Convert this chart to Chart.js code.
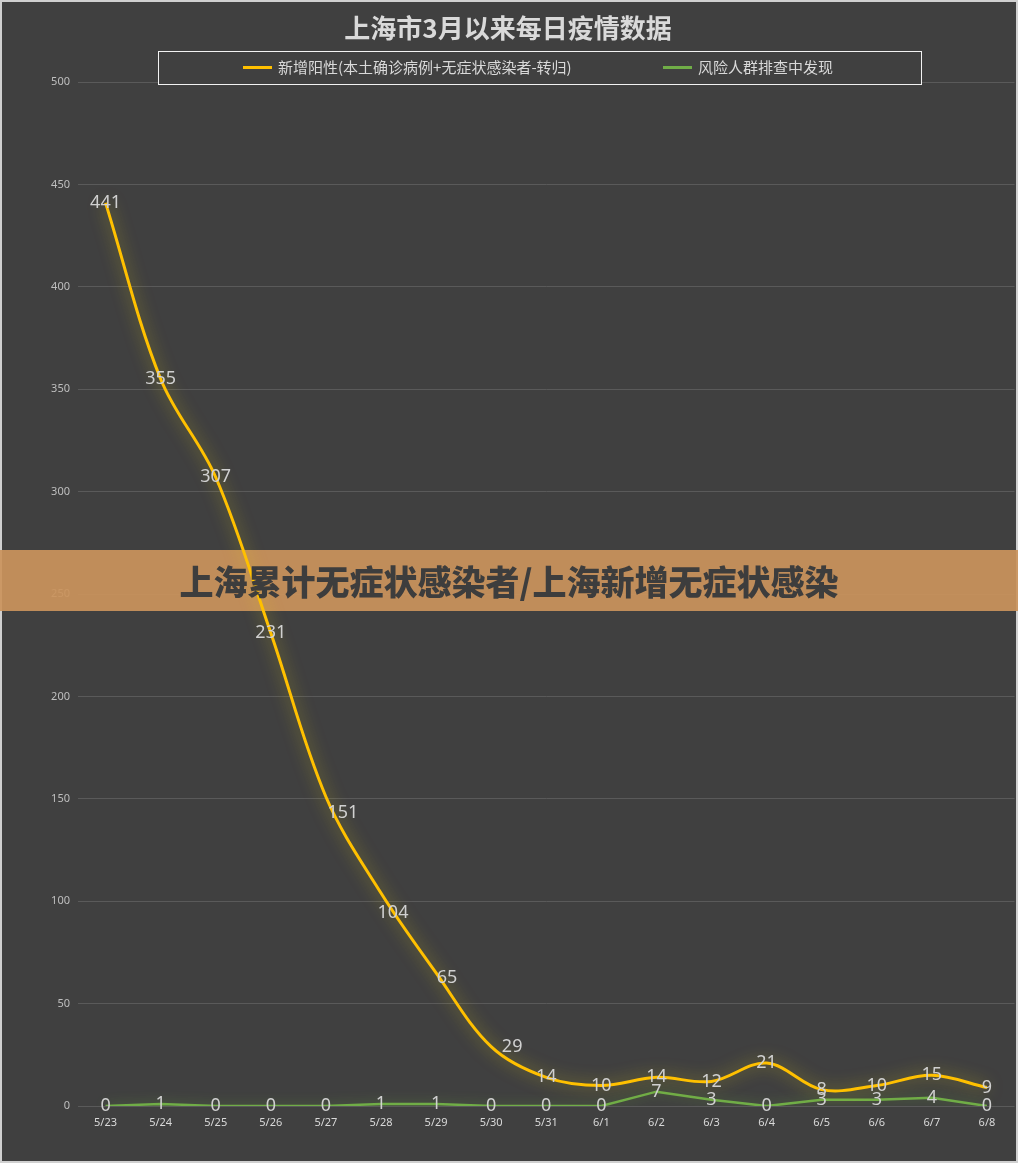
<!DOCTYPE html>
<html>
<head>
<meta charset="utf-8">
<script src="https://cdn.jsdelivr.net/npm/chart.js@4"></script>
<style>
    html, body { margin: 0; padding: 0; background: #404040; }
    #wrap { width: 1018px; height: 1163px; position: relative; }
</style>
</head>
<body>
<div id="wrap"><canvas id="epiChart" width="1018" height="1163"></canvas></div>
<script>
// ==================== DATA ====================
const dates = ['5/23', '5/24', '5/25', '5/26', '5/27', '5/28', '5/29', '5/30', '5/31',
               '6/1', '6/2', '6/3', '6/4', '6/5', '6/6', '6/7', '6/8'];
const positiveCases = [441, 355, 307, 231, 151, 104, 65, 29, 14, 10, 14, 12, 21, 8, 10, 15, 9];
const screeningCases = [0, 1, 0, 0, 0, 1, 1, 0, 0, 0, 7, 3, 0, 3, 3, 4, 0];
const seriesNames = ['新增阳性(本土确诊病例+无症状感染者-转归)', '风险人群排查中发现'];
const seriesColors = ['#ffc000', '#70ad47'];
const glowColors = ['rgba(230, 210, 20, 0.6)', 'rgba(120, 200, 60, 0.45)'];
const yMin = 0, yMax = 500, yStep = 50;
const chartTitle = '上海市3月以来每日疫情数据';
const bannerText = '上海累计无症状感染者/上海新增无症状感染';

const BG = '#404040';
const TEXT = '#d9d9d9';
const CJK = '"Noto Sans CJK SC", "Noto Sans", sans-serif';

// a few value labels were dragged off their points in the original (dataset 0, point index -> [dx, dy])
const labelNudge = { 4: [17, 16], 5: [12, 20], 6: [11, 5], 7: [21, 0] };

// ==================== PLUGINS ====================
// frame, background, title and boxed legend
const framePlugin = {
    id: 'frame',
    beforeDraw(chart) {
        const ctx = chart.ctx;
        ctx.save();
        ctx.fillStyle = BG;
        ctx.fillRect(0, 0, chart.width, chart.height);
        ctx.strokeStyle = '#d0d0d0';
        ctx.lineWidth = 2;
        ctx.strokeRect(1, 1, chart.width - 2, chart.height - 2);
        ctx.restore();
    },
    afterDraw(chart) {
        const ctx = chart.ctx;
        ctx.save();
        // title
        ctx.fillStyle = TEXT;
        ctx.font = 'bold 26px ' + CJK;
        ctx.textAlign = 'center';
        ctx.textBaseline = 'middle';
        ctx.fillText(chartTitle, 508, 28);

        // legend box
        ctx.fillStyle = BG;
        ctx.fillRect(158, 51, 763, 33);
        ctx.strokeStyle = '#f2f2f2';
        ctx.lineWidth = 1;
        ctx.strokeRect(158.5, 51.5, 763, 33);

        const starts = [243, 663];
        ctx.font = '15px ' + CJK;
        ctx.textAlign = 'left';
        chart.data.datasets.forEach((ds, i) => {
            ctx.strokeStyle = ds.borderColor;
            ctx.lineWidth = 3;
            ctx.beginPath();
            ctx.moveTo(starts[i], 67.5);
            ctx.lineTo(starts[i] + 29, 67.5);
            ctx.stroke();
            ctx.fillStyle = TEXT;
            ctx.fillText(ds.label, starts[i] + 35, 67);
        });
        ctx.restore();
    }
};

// glow on the lines
const glowPlugin = {
    id: 'glow',
    beforeDatasetDraw(chart, args) {
        const ctx = chart.ctx;
        ctx.save();
        ctx.shadowColor = glowColors[args.index];
        ctx.shadowBlur = args.index === 0 ? 16 : 12;
    },
    afterDatasetDraw(chart) {
        chart.ctx.restore();
    }
};

// banner across the chart + value labels
const overlayPlugin = {
    id: 'overlay',
    beforeDatasetsDraw(chart) {
        const ctx = chart.ctx;
        ctx.save();
        ctx.fillStyle = 'rgba(202, 147, 92, 0.93)';
        ctx.fillRect(0, 550, chart.width, 61);
        ctx.restore();
    },
    afterDatasetsDraw(chart) {
        const ctx = chart.ctx;
        ctx.save();
        ctx.font = '18px "Noto Sans", "Open Sans", sans-serif';
        ctx.fillStyle = '#d0d0d0';
        ctx.textAlign = 'center';
        ctx.textBaseline = 'middle';
        chart.data.datasets.forEach((ds, i) => {
            const meta = chart.getDatasetMeta(i);
            meta.data.forEach((pt, j) => {
                const nudge = (i === 0 && labelNudge[j]) || [0, 0];
                ctx.fillText(String(ds.data[j]), pt.x + nudge[0], pt.y + nudge[1]);
            });
        });
        ctx.restore();
    },
    afterDraw(chart) {
        const ctx = chart.ctx;
        ctx.save();
        ctx.fillStyle = '#3d3d3d';
        ctx.font = '900 34px ' + CJK;
        ctx.textAlign = 'center';
        ctx.textBaseline = 'middle';
        ctx.fillText(bannerText, 509, 582);
        ctx.restore();
    }
};

// ==================== CHART ====================
new Chart(document.getElementById('epiChart').getContext('2d'), {
    type: 'line',
    data: {
        labels: dates,
        datasets: [{
            label: seriesNames[0],
            data: positiveCases,
            borderColor: seriesColors[0],
            borderWidth: 3,
            tension: 0.35,
            pointRadius: 0,
            fill: false
        }, {
            label: seriesNames[1],
            data: screeningCases,
            borderColor: seriesColors[1],
            borderWidth: 2.5,
            tension: 0,
            pointRadius: 0,
            fill: false
        }]
    },
    options: {
        responsive: false,
        animation: false,
        layout: { padding: { top: 82, right: 3.5, bottom: 0, left: 0 } },
        plugins: {
            legend: { display: false },
            title: { display: false },
            tooltip: { enabled: false }
        },
        scales: {
            x: {
                offset: true,
                grid: { display: false, drawTicks: false },
                border: { display: false },
                ticks: {
                    color: TEXT,
                    font: { family: 'Noto Sans', size: 11 },
                    padding: 10,
                    maxRotation: 0,
                    autoSkip: false
                },
                afterFit(scale) { scale.height = 57; }
            },
            y: {
                min: yMin,
                max: yMax,
                grid: { color: '#5a5a5a', lineWidth: 1, drawTicks: false },
                border: { display: false },
                ticks: {
                    stepSize: yStep,
                    color: '#bfbfbf',
                    font: { family: 'Noto Sans', size: 11 },
                    padding: 8
                },
                afterFit(scale) { scale.width = 78; }
            }
        }
    },
    plugins: [framePlugin, glowPlugin, overlayPlugin]
});
</script>
</body>
</html>
